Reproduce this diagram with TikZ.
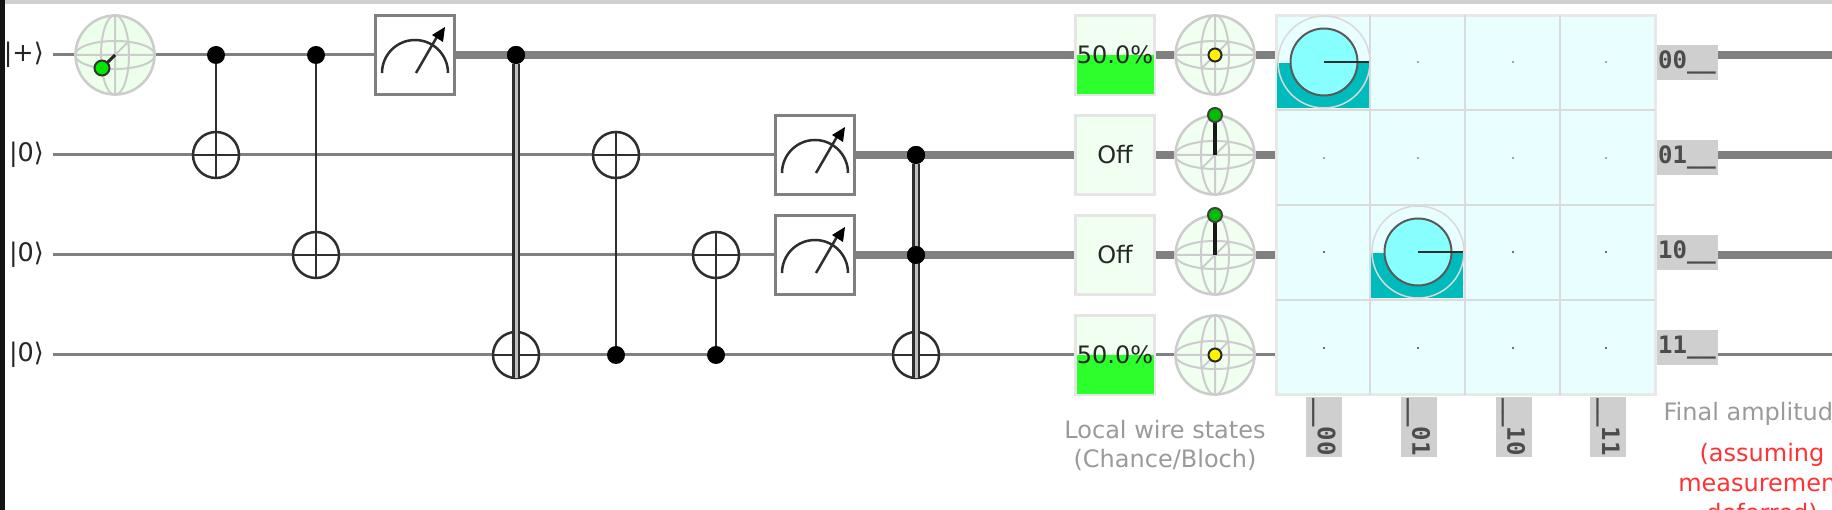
\documentclass[tikz,border=0pt]{standalone}
\usepackage{fontspec}
\setmainfont{DejaVu Sans}
\setmonofont{DejaVu Sans Mono}
\usetikzlibrary{backgrounds}
\definecolor{wirec}{HTML}{808080}
\definecolor{ink}{HTML}{2E2E2E}
\definecolor{sphereline}{HTML}{CCCCCC}
\definecolor{spherefill}{HTML}{F0FFF0}
\definecolor{barfill}{HTML}{2CFF2C}
\definecolor{cellfill}{HTML}{E9FFFF}
\definecolor{teal}{HTML}{00BBBB}
\definecolor{ampfill}{HTML}{88FFFF}
\definecolor{labgray}{HTML}{CFCFCF}
\definecolor{capgray}{HTML}{9A9A9A}
\definecolor{capred}{HTML}{FF3333}
\tikzset{
  thinwire/.style={draw=wirec,line width=3pt},
  thickwire/.style={draw=wirec,line width=8pt},
  ctrl/.style={circle,fill=black,minimum size=18pt,inner sep=0pt},
  xorgate/.style={circle,draw=ink,fill=white,line width=2.5pt,minimum size=46pt,inner sep=0pt},
  link/.style={draw=ink,line width=2.5pt},
  meterbox/.style={rectangle,draw=wirec,fill=white,line width=3pt,minimum size=79pt,inner sep=0pt},
  readout/.style={rectangle,draw=black!10,fill=spherefill,line width=3pt,minimum size=79pt,inner sep=0pt,font=\fontsize{24}{28}\selectfont,text=black!85},
  bloch/.style={circle,draw=sphereline,fill=spherefill,line width=2.5pt,minimum size=79pt,inner sep=0pt},
  ketlabel/.style={anchor=east,inner sep=0pt,font=\fontsize{25.5}{29}\selectfont,text=black!85},
  rowlab/.style={rectangle,fill=labgray,minimum width=61pt,minimum height=35pt,inner sep=0pt,font=\ttfamily\bfseries\fontsize{24}{28}\selectfont,text=black!70},
  collab/.style={rectangle,fill=labgray,minimum width=60pt,minimum height=36pt,inner sep=0pt,rotate=-90,font=\ttfamily\bfseries\fontsize{24}{28}\selectfont,text=black!70},
  caption/.style={align=center,inner sep=0pt,font=\fontsize{24}{29}\selectfont,text=capgray},
  ampgrid/.style={rectangle,draw=black!9,fill=cellfill,line width=3pt,minimum size=379pt,inner sep=0pt}
}
\newcommand{\spheredetail}[2]{%
  \draw[sphereline,line width=2pt] (#1-40,#2) -- (#1+40,#2) (#1,#2-40) -- (#1,#2+40) (#1-13,#2+13) -- (#1+13,#2-13);
  \draw[sphereline,line width=2pt] (#1,#2) ellipse (40 and 14) (#1,#2) ellipse (14 and 40);
}
\newcommand{\meterdetail}[2]{%
  \draw[ink,line width=2.5pt] (#1-33,#2+18) arc[start angle=180,end angle=360,radius=33];
  \draw[ink,line width=2.5pt] (#1+1,#2+18) -- (#1+23,#2-20);
  \fill[black] (#1+30,#2-28) -- (#1+17,#2-20) -- (#1+28,#2-13) -- cycle;
}
\newcommand{\ampcell}[3]{% left, top of cell, centre y
  \fill[teal] (#1,#3+1) rectangle (#1+92,#2+92);
  \draw[black!15,line width=1.5pt] (#1+47,#3) circle (46);
  \draw[black!65,fill=ampfill,line width=2pt] (#1+47,#3) circle (33.5);
  \draw[ink,line width=2pt] (#1+47,#3) -- (#1+92,#3);
}
\newcommand{\lowered}[1]{\raisebox{-2pt}{#1}}
\begin{document}
\begin{tikzpicture}[x=1pt,y=-1pt]
\useasboundingbox (0,0) rectangle (1832,510);
\clip (0,0) rectangle (1832,510);
\begin{scope}[on background layer]
\fill[white] (0,0) rectangle (1832,510);
\fill[labgray] (5,0) rectangle (1832,4);
\fill[black!92] (0,0) rectangle (5,510);
\end{scope}

% wire ends
\coordinate (s0) at (53,55); \coordinate (s1) at (53,155);
\coordinate (s2) at (53,255); \coordinate (s3) at (53,355);
\coordinate (e0) at (1832,55); \coordinate (e1) at (1832,155);
\coordinate (e2) at (1832,255); \coordinate (e3) at (1832,355);

% labels
\node[ketlabel] (k0) at (44,55) {|+⟩};
\node[ketlabel] (k1) at (44,155) {|0⟩};
\node[ketlabel] (k2) at (44,255) {|0⟩};
\node[ketlabel] (k3) at (44,355) {|0⟩};

% gates
\node[bloch,fill=green!8] (b0) at (115,55) {};
\spheredetail{115}{55}
\draw[black!85,line width=3pt] (115,55) -- (102,68);
\draw[black!80,fill=green!90!black,line width=2pt] (102,68) circle (7.5);

\node[ctrl] (c1) at (216,55) {};
\node[xorgate] (x1) at (216,155) {};
\node[ctrl] (c2) at (316,55) {};
\node[xorgate] (x2) at (316,255) {};
\node[meterbox] (m0) at (415,55) {};
\meterdetail{415}{55}
\node[ctrl] (c3) at (516,55) {};
\node[xorgate] (x3) at (516,355) {};
\node[xorgate] (x4) at (616,155) {};
\node[ctrl] (c4) at (616,355) {};
\node[xorgate] (x5) at (716,255) {};
\node[ctrl] (c5) at (716,355) {};
\node[meterbox] (m1) at (815,155) {};
\meterdetail{815}{155}
\node[meterbox] (m2) at (815,255) {};
\meterdetail{815}{255}
\node[ctrl] (c6) at (916,155) {};
\node[ctrl] (c7) at (916,255) {};
\node[xorgate] (x6) at (916,355) {};

% cross strokes of the xor gates
\foreach \n in {x1,x2,x3,x4,x5,x6}{
  \draw[ink,line width=2.5pt] (\n.west) -- (\n.east) (\n.north) -- (\n.south);
}

% double wires over their xor gates
\coordinate (t3) at (516,378);
\coordinate (t6) at (916,378);
\draw[ink,line width=7.5pt] (c3) -- (t3);
\draw[wirec!50,line width=3pt] (c3) -- (t3);
\draw[ink,line width=7.5pt] (c6) -- (t6);
\draw[wirec!50,line width=3pt] (c6) -- (t6);
\node[ctrl] at (c3) {};
\node[ctrl] at (c6) {};
\node[ctrl] at (c7) {};

% readouts
\foreach \y/\n in {55/0,155/1,255/2,355/3}{
  \node[readout] (d\n) at (1115,\y) {};
}
\fill[barfill] (1077,55) rectangle (1154,94);
\fill[barfill] (1077,355) rectangle (1154,394);
\node[readout,draw=none,fill=none] at (d0) {50.0\%};
\node[readout,draw=none,fill=none] at (d1) {Off};
\node[readout,draw=none,fill=none] at (d2) {Off};
\node[readout,draw=none,fill=none] at (d3) {50.0\%};

% local spheres
\foreach \y/\n in {55/0,155/1,255/2,355/3}{
  \node[bloch] (q\n) at (1215,\y) {};
  \spheredetail{1215}{\y}
}
\draw[black!85,fill=yellow,line width=2pt] (q0.center) circle (6.5);
\draw[black!85,fill=yellow,line width=2pt] (q3.center) circle (6.5);
\draw[black!90,line width=3.5pt] (q1.center) -- (1215,115);
\draw[black!75,fill=green!75!black,line width=2pt] (1215,115) circle (7);
\draw[black!90,line width=3.5pt] (q2.center) -- (1215,215);
\draw[black!75,fill=green!75!black,line width=2pt] (1215,215) circle (7);

% amplitude grid
\node[ampgrid] (amps) at (1465.5,205) {};
\draw[black!14,line width=2pt] (1370,15) -- (1370,395) (1465,15) -- (1465,395) (1560,15) -- (1560,395)
  (1276,110) -- (1655,110) (1276,205) -- (1655,205) (1276,300) -- (1655,300);
\foreach \x in {1324,1418,1513,1606}{
  \fill[black!45] (\x,62) circle (1.2);
  \fill[black!45] (\x,158) circle (1.2);
  \fill[black!75] (\x,252) circle (1.2);
  \fill[black!75] (\x,348) circle (1.2);
}
\ampcell{1277}{16}{62}
\ampcell{1371}{206}{252}

% amplitude labels
\node[rowlab] (r0) at (1687,62.5) {\lowered{00\_\_}};
\node[rowlab] (r1) at (1687,157.5) {\lowered{01\_\_}};
\node[rowlab] (r2) at (1687,252.5) {\lowered{10\_\_}};
\node[rowlab] (r3) at (1687,347.5) {\lowered{11\_\_}};
\node[collab] (l0) at (1324,427) {\_\_00};
\node[collab] (l1) at (1418.5,427) {\_\_01};
\node[collab] (l2) at (1513.5,427) {\_\_10};
\node[collab] (l3) at (1608,427) {\_\_11};

% captions
\node[caption] (cap1) at (1165,445) {Local wire states\\(Chance/Bloch)};
\node[caption] (cap2) at (1762,414) {Final amplitudes};
\node[caption,text=capred,font=\fontsize{24}{30}\selectfont,anchor=north] (cap3) at (1762,443) {(assuming\\measurement\\deferred)};

% wires and links behind everything
\begin{scope}[on background layer]
  \draw[thinwire] (s0) -- (b0);
  \draw[thinwire] (b0) -- (m0);
  \draw[thickwire] (m0) -- (d0);
  \draw[thickwire] (d0) -- (q0);
  \draw[thickwire] (q0) -- (amps.west |- q0);
  \draw[thinwire] (s1) -- (m1);
  \draw[thickwire] (m1) -- (d1);
  \draw[thickwire] (d1) -- (q1);
  \draw[thickwire] (q1) -- (amps.west |- q1);
  \draw[thinwire] (s2) -- (m2);
  \draw[thickwire] (m2) -- (d2);
  \draw[thickwire] (d2) -- (q2);
  \draw[thickwire] (q2) -- (amps.west |- q2);
  \draw[thinwire] (s3) -- (d3);
  \draw[thinwire] (d3) -- (q3);
  \draw[thinwire] (q3) -- (amps.west |- q3);
  \draw[thickwire] (r0.east |- e0) -- (e0);
  \draw[thickwire] (r1.east |- e1) -- (e1);
  \draw[thickwire] (r2.east |- e2) -- (e2);
  \draw[thinwire] (r3.east |- e3) -- (e3);
\end{scope}
\draw[link] (c1) -- (x1);
\draw[link] (c2) -- (x2);
\draw[link] (x4) -- (c4);
\draw[link] (x5) -- (c5);
\end{tikzpicture}
\end{document}
